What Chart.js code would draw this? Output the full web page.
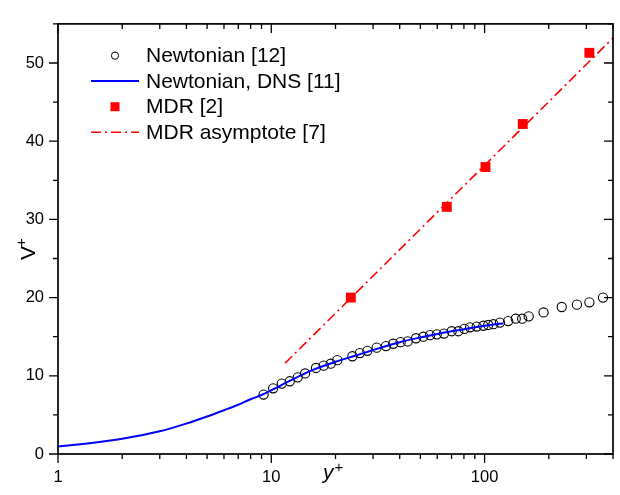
<!DOCTYPE html>
<html><head><meta charset="utf-8">
<script src="https://cdn.jsdelivr.net/npm/chart.js@4.4.0/dist/chart.umd.min.js"></script>
<style>html,body{margin:0;padding:0;background:#fff}#wrap{width:620px;height:495px;position:relative}</style>
</head><body><div id="wrap"><canvas id="c" width="620" height="495"></canvas></div>
<script>
// ---- data ----
const newtX = [9.2,10.2,11.2,12.2,13.3,14.4,16.2,17.6,19.0,20.4,24.0,26.0,28.2,31.2,34.5,37.3,40.4,43.6,47.7,51.6,55.5,59.7,64.5,70.1,75.3,80.4,85.5,91.8,98.7,104,110,118,129,140,150,161,189,230,271,310,359];
const newtY = [7.6,8.4,9.0,9.3,9.8,10.3,11.0,11.3,11.55,12.0,12.5,12.9,13.2,13.6,13.8,14.1,14.3,14.4,14.8,15.0,15.2,15.3,15.4,15.7,15.7,16.0,16.2,16.3,16.4,16.5,16.6,16.8,17.0,17.3,17.3,17.6,18.1,18.8,19.1,19.4,20.0];
const dnsX = [1,1.4,2,3,4,5,6,7,8,9,10,12,14,16,18,20,25,30,40,50,60,70,80,90,100,110,122];
const dnsY = [0.97,1.38,1.95,2.9,3.9,4.8,5.6,6.3,7.0,7.55,8.15,9.25,10.15,10.85,11.35,11.8,12.6,13.3,14.3,14.9,15.35,15.7,15.95,16.2,16.4,16.55,16.7];
const mdrX = [23.6,66.5,101,151,310];
const mdrY = [20.0,31.6,36.7,42.2,51.3];
const asymX = [11.6,400];
const asymY = [11.6,53.2];
const xMajorTicks = [1,10,100];
const xMinorTicks = [2,3,4,5,6,7,8,9,20,30,40,50,60,70,80,90,200,300,400];
const yMajorTicks = [0,10,20,30,40,50];
const yMinorTicks = [5,15,25,35,45,55];
const seriesNames = ['Newtonian [12]','Newtonian, DNS [11]','MDR [2]','MDR asymptote [7]'];
const xTitle = 'y', yTitle = 'V', titleSup = '+';

const FONT = "'Liberation Sans', Arial, sans-serif";
const pts = (xs, ys) => xs.map((x, i) => ({x, y: ys[i]}));
const DASH = [10,4,2,4];

const framePlugin = {
  id: 'frame',
  afterDraw(chart) {
    const {ctx, chartArea: a, scales} = chart;
    const xs = scales.x, ys = scales.y;
    ctx.save();
    ctx.strokeStyle = '#000';
    ctx.lineWidth = 1.7;
    ctx.strokeRect(a.left, a.top, a.right - a.left, a.bottom - a.top);
    ctx.lineWidth = 1.3;
    ctx.beginPath();
    const tx = (v, len) => {
      const p = xs.getPixelForValue(v);
      ctx.moveTo(p, a.bottom); ctx.lineTo(p, a.bottom + len);
      ctx.moveTo(p, a.top); ctx.lineTo(p, a.top + len);
    };
    const ty = (v, len) => {
      const p = ys.getPixelForValue(v);
      ctx.moveTo(a.left, p); ctx.lineTo(a.left - len, p);
      ctx.moveTo(a.right, p); ctx.lineTo(a.right - len, p);
    };
    xMajorTicks.forEach(v => tx(v, 9));
    xMinorTicks.forEach(v => tx(v, 5));
    yMajorTicks.forEach(v => ty(v, 9));
    yMinorTicks.forEach(v => ty(v, 5));
    ctx.stroke();

    // axis titles
    ctx.fillStyle = '#000';
    ctx.textBaseline = 'alphabetic';
    ctx.textAlign = 'left';
    ctx.font = 'italic 21px ' + FONT;
    const xt = 323;
    ctx.fillText(xTitle, xt, 479);
    const yw = ctx.measureText(xTitle).width;
    ctx.font = '15px ' + FONT;
    ctx.fillText(titleSup, xt + yw + 1, 472);

    ctx.save();
    ctx.translate(35, 260);
    ctx.rotate(-Math.PI / 2);
    ctx.font = '21px ' + FONT;
    ctx.fillText(yTitle, 0, 0);
    const vw = ctx.measureText(yTitle).width;
    ctx.font = '15px ' + FONT;
    ctx.fillText(titleSup, vw - 1, -9);
    ctx.restore();

    // legend
    const rows = [55.7, 81, 106.7, 132.3];
    const sx = 115, l0 = 91, l1 = 139, txX = 146;
    ctx.lineWidth = 1;
    ctx.strokeStyle = '#000';
    ctx.beginPath(); ctx.arc(sx, rows[0], 3.6, 0, Math.PI * 2); ctx.stroke();
    ctx.strokeStyle = '#0000ff'; ctx.lineWidth = 2;
    ctx.beginPath(); ctx.moveTo(l0, rows[1]); ctx.lineTo(l1, rows[1]); ctx.stroke();
    ctx.fillStyle = '#ff0000';
    ctx.fillRect(sx - 4.5, rows[2] - 4.5, 9, 9);
    ctx.strokeStyle = '#ff0000'; ctx.lineWidth = 1.6; ctx.setLineDash(DASH);
    ctx.beginPath(); ctx.moveTo(l0, rows[3]); ctx.lineTo(l1, rows[3]); ctx.stroke();
    ctx.setLineDash([]);
    ctx.fillStyle = '#000';
    ctx.font = '21px ' + FONT;
    ctx.textBaseline = 'middle';
    seriesNames.forEach((t, i) => ctx.fillText(t, txX, rows[i] + 1));
    ctx.restore();
  }
};

new Chart(document.getElementById('c'), {
  type: 'scatter',
  data: {
    datasets: [
      { label: seriesNames[0], data: pts(newtX, newtY), showLine: false,
        pointStyle: 'circle', pointRadius: 4.6, pointBorderWidth: 1.1,
        pointBorderColor: '#000', pointBackgroundColor: 'rgba(0,0,0,0)', order: 3 },
      { label: seriesNames[1], data: pts(dnsX, dnsY), showLine: true, pointRadius: 0,
        borderColor: '#0000ff', borderWidth: 2, cubicInterpolationMode: 'monotone', order: 1 },
      { label: seriesNames[2], data: pts(mdrX, mdrY), showLine: false,
        pointStyle: 'rect', pointRadius: 7, pointBorderWidth: 0,
        pointBackgroundColor: '#ff0000', pointBorderColor: '#ff0000', order: 0 },
      { label: seriesNames[3], data: pts(asymX, asymY), showLine: true, pointRadius: 0,
        borderColor: '#ff0000', borderWidth: 1.6, borderDash: DASH, order: 2 }
    ]
  },
  options: {
    responsive: false, animation: false, devicePixelRatio: 1,
    layout: { padding: { left: 0, right: 7, top: 7, bottom: 0 } },
    plugins: { legend: { display: false }, tooltip: { enabled: false } },
    scales: {
      x: {
        type: 'logarithmic', min: 1, max: 400,
        afterBuildTicks: s => { s.ticks = xMajorTicks.map(v => ({ value: v })); },
        afterFit: s => { s.height = 41; },
        grid: { display: false, drawTicks: false }, border: { display: false },
        ticks: { autoSkip: false, maxRotation: 0, padding: 14, color: '#000',
                 font: { family: FONT, size: 16.5 }, callback: v => String(v) }
      },
      y: {
        type: 'linear', min: 0, max: 55,
        afterBuildTicks: s => { s.ticks = yMajorTicks.map(v => ({ value: v })); },
        afterFit: s => { s.width = 58; },
        grid: { display: false, drawTicks: false }, border: { display: false },
        ticks: { padding: 14, color: '#000', font: { family: FONT, size: 16.5 },
                 callback: v => String(v) }
      }
    }
  },
  plugins: [framePlugin]
});
</script></body></html>
